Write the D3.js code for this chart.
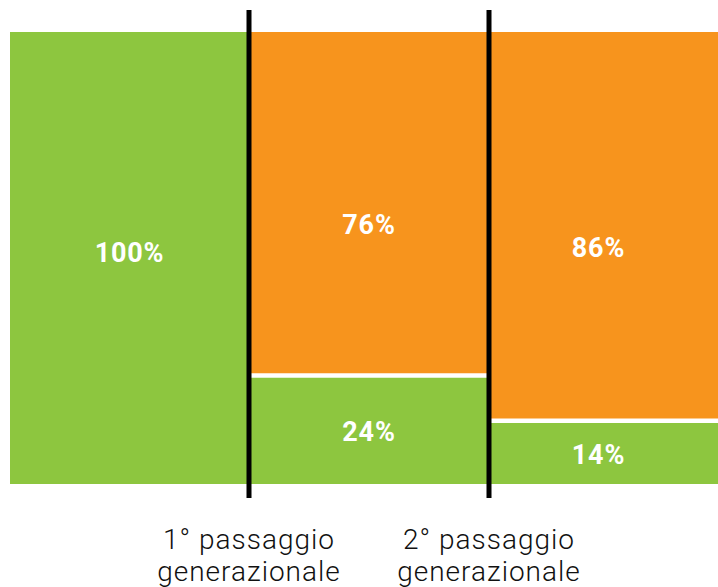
<!DOCTYPE html>
<html><head><meta charset="utf-8">
<script src="https://cdn.jsdelivr.net/npm/d3@7"></script>
<style>html,body{margin:0;padding:0;background:#fff;}svg{display:block;}</style>
</head><body>
<svg id="chart" width="718" height="587"></svg>
<script>
const categories = ["start", "gen1", "gen2"];
const greenValues = [100, 24, 14];
const orangeValues = [0, 76, 86];
const dividerLabels = [["1° passaggio", "generazionale"], ["2° passaggio", "generazionale"]];

const W = 718, MARGIN = 10;
const GREEN = "#8DC63F", ORANGE = "#F7941D";
const svg = d3.select("#chart");
const x = d3.scaleBand().domain(categories).range([9, 729]).paddingInner(0).paddingOuter(0);
const y = d3.scaleLinear().domain([0, 100]).range([484, 32]);

const rows = categories.map((c, i) => ({ c, g: greenValues[i], o: orangeValues[i] }));
const left = d => Math.max(x(d.c), MARGIN);
const right = d => Math.min(x(d.c) + x.bandwidth(), W);

// green segments
svg.selectAll("rect.g").data(rows).join("rect")
  .attr("x", left).attr("width", d => right(d) - left(d))
  .attr("y", d => y(d.g)).attr("height", d => y(0) - y(d.g)).attr("fill", GREEN);
// orange segments
svg.selectAll("rect.o").data(rows.filter(d => d.o > 0)).join("rect")
  .attr("x", left).attr("width", d => right(d) - left(d))
  .attr("y", d => y(d.g + d.o)).attr("height", d => y(d.g) - y(d.g + d.o)).attr("fill", ORANGE);
// white separators
svg.selectAll("line.sep").data(rows.filter(d => d.o > 0)).join("line")
  .attr("x1", left).attr("x2", right)
  .attr("y1", d => y(d.g)).attr("y2", d => y(d.g))
  .attr("stroke", "#fff").attr("stroke-width", 4.5);

// value labels
const lab = svg.append("g").attr("font-family", "Roboto, 'DejaVu Sans', sans-serif")
  .attr("font-weight", 700).attr("font-size", 27).attr("fill", "#fff")
  .attr("text-anchor", "middle").attr("letter-spacing", 0.8);
rows.forEach(d => {
  const cx = (left(d) + Math.min(right(d), W - MARGIN)) / 2;
  lab.append("text").attr("x", cx).attr("y", y(d.g / 2) + (d.o > 0 ? 1.5 : 0)).attr("dy", d.o > 0 ? "0.36em" : "0.16em").text(d.g + "%");
  if (d.o > 0) lab.append("text").attr("x", cx).attr("y", y(d.g + d.o / 2) + 21).attr("dy", "0.36em").text(d.o + "%");
});

// black dividers
const dividers = categories.slice(1);
svg.selectAll("line.div").data(dividers).join("line")
  .attr("x1", d => x(d)).attr("x2", d => x(d))
  .attr("y1", 10).attr("y2", 498).attr("stroke", "#000").attr("stroke-width", 5);

// divider labels
const bl = svg.append("g").attr("font-family", "Roboto, 'DejaVu Sans', sans-serif")
  .attr("font-weight", 300).attr("font-size", 28).attr("letter-spacing", 1)
  .attr("fill", "#111").attr("text-anchor", "middle");
dividers.forEach((d, i) => {
  const t = bl.append("text").attr("x", x(d)).attr("y", 549);
  dividerLabels[i].forEach((s, j) => t.append("tspan").attr("x", x(d)).attr("dy", j ? 32 : 0).text(s));
});
</script>
</body></html>
